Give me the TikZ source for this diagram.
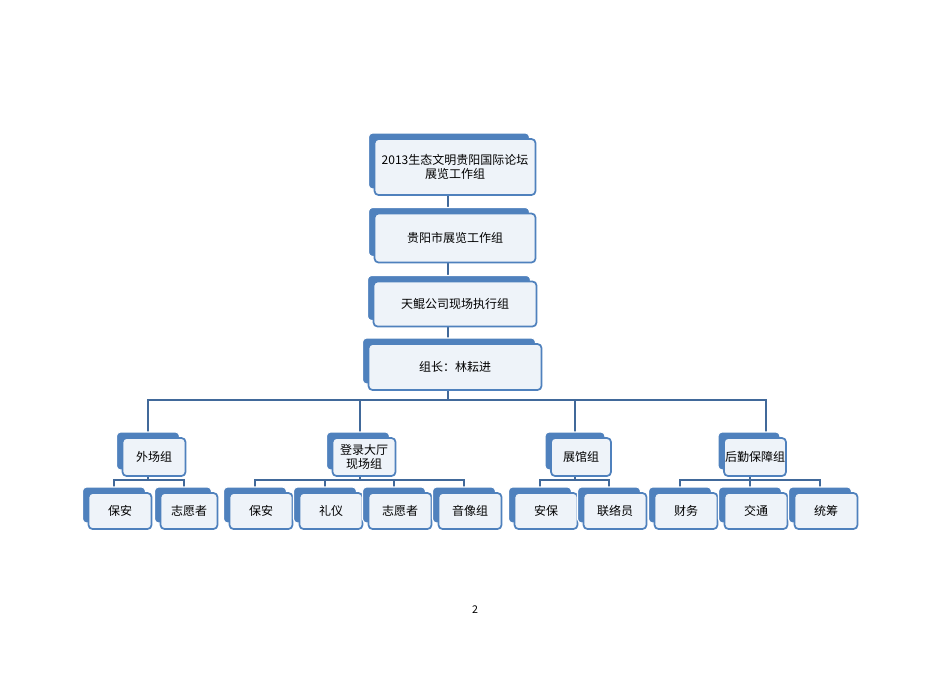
\documentclass[tikz,border=0pt]{standalone}
\usepackage{fontspec}
\setmainfont{Noto Sans CJK SC}
\begin{document}
\begin{tikzpicture}[x=0.75pt,y=-0.75pt,
  front/.style={rectangle,rounded corners=3pt,fill=boxfill,draw=boxblue,line width=1.3pt,inner sep=0pt,font=\fontsize{9}{11}\selectfont,align=center},
  back/.style={rounded corners=3pt,fill=boxblue,draw=white,line width=0.8pt},
  conn/.style={draw=lineblue,line width=1.4pt}]
\definecolor{boxblue}{HTML}{4F81BD}
\definecolor{boxfill}{HTML}{EEF3F9}
\definecolor{lineblue}{HTML}{41699A}
\useasboundingbox (0,0) rectangle (950,672);
\fill[white] (0,0) rectangle (950,672);
% macro: name, cx, cy, w, h, text
\newcommand\bx[6]{%
  \draw[back] ({#2-#4/2-6},{#3-#5/2-6}) rectangle ({#2+#4/2-6},{#3+#5/2-6});
  \node[front,minimum width=#4*0.75pt,minimum height=#5*0.75pt] (#1) at (#2,#3) {#6};}
% connectors first under boxes
\draw[conn] (448,190) -- (448,345);
\draw[conn] (448,390) -- (448,400);
\draw[conn] (148,432) -- (148,400) -- (766,400) -- (766,432);
\draw[conn] (360,400) -- (360,432);
\draw[conn] (575,400) -- (575,432);
% level 3 buses
\draw[conn] (114,489) -- (114,480) -- (184,480) -- (184,489);
\draw[conn] (148,476) -- (148,480);
\draw[conn] (255,489) -- (255,480) -- (464,480) -- (464,489);
\draw[conn] (325,480) -- (325,489); \draw[conn] (394,480) -- (394,489);
\draw[conn] (360,476) -- (360,480);
\draw[conn] (540,489) -- (540,480) -- (609,480) -- (609,489);
\draw[conn] (575,476) -- (575,480);
\draw[conn] (680,489) -- (680,480) -- (820,480) -- (820,489);
\draw[conn] (750,476) -- (750,489);
% boxes
\bx{a}{455}{167}{161}{56}{2013生态文明贵阳国际论坛\\展览工作组}
\bx{b}{455}{238}{161}{49}{贵阳市展览工作组}
\bx{c}{455}{304}{163}{45}{天鲲公司现场执行组}
\bx{d}{455}{367}{173}{46}{组长：林耘进}
\bx{e1}{154}{457}{63}{38}{外场组}
\bx{e2}{364}{457}{63}{38}{登录大厅\\现场组}
\bx{e3}{581}{457}{60}{38}{展馆组}
\bx{e4}{755}{457}{62}{38}{后勤保障组}
\bx{f1}{120}{511}{63}{36}{保安}
\bx{f2}{189}{511}{57}{36}{志愿者}
\bx{f3}{261}{511}{63}{36}{保安}
\bx{f4}{331}{511}{63}{36}{礼仪}
\bx{f5}{400}{511}{63}{36}{志愿者}
\bx{f6}{470}{511}{63}{36}{音像组}
\bx{f7}{546}{511}{63}{36}{安保}
\bx{f8}{615}{511}{63}{36}{联络员}
\bx{f9}{686}{511}{63}{36}{财务}
\bx{f10}{756}{511}{63}{36}{交通}
\bx{f11}{826}{511}{63}{36}{统筹}
\node[font=\fontsize{8}{10}\selectfont] (pg) at (475,610) {2};
\end{tikzpicture}
\end{document}
